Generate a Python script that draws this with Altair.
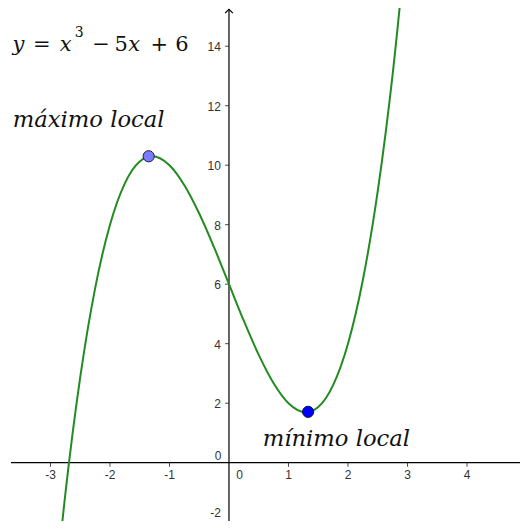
import altair as alt
import pandas as pd

# ---- data ----
curve_x = [-3.0, -2.75, -2.5, -2.25, -2.0, -1.75, -1.5, -1.291, -1.0, -0.75, -0.5, -0.25,
           0.0, 0.25, 0.5, 0.75, 1.0, 1.291, 1.5, 1.75, 2.0, 2.25, 2.5, 2.75, 3.0]
curve_y = [-6.0, -1.047, 2.875, 5.859, 8.0, 9.391, 10.125, 10.303, 10.0, 9.328, 8.375, 7.234,
           6.0, 4.766, 3.625, 2.672, 2.0, 1.697, 1.875, 2.609, 4.0, 6.141, 9.125, 13.047, 18.0]

x_ticks = [-3, -2, -1, 1, 2, 3, 4]
y_ticks = [-2, 2, 4, 6, 8, 10, 12, 14]

max_x, max_y = [-1.35], [10.3]
min_x, min_y = [1.33], [1.71]

label_max = "máximo local"
label_min = "mínimo local"

eq_text = ["y", "=", "x", "3", "−", "5", "x", "+", "6"]
eq_italic = [True, False, True, False, False, False, True, False, False]

# ---- view ----
X_MIN, X_MAX = -3.714, 4.891
Y_MIN, Y_MAX = -1.960, 15.284
AX_LEFT, AX_TOP = -3.664, 15.24

xs = alt.Scale(domain=[X_MIN, X_MAX], nice=False, zero=False)
ys = alt.Scale(domain=[Y_MIN, Y_MAX], nice=False, zero=False)


def ex(f="x"):
    return alt.X(f, type="quantitative", scale=xs, axis=None)


def ey(f="y"):
    return alt.Y(f, type="quantitative", scale=ys, axis=None)


AXIS_COLOR = "#000000"
LABEL_COLOR = "#333333"
SANS = "Liberation Sans"
SERIF = "DejaVu Serif"

# axes lines
xaxis = alt.Chart(pd.DataFrame({"x": [AX_LEFT], "x2": [X_MAX + 1], "y": [0]})).mark_rule(
    color=AXIS_COLOR, strokeWidth=1.2, clip=True
).encode(x=ex(), x2="x2", y=ey())

yaxis = alt.Chart(pd.DataFrame({"x": [0], "y": [Y_MIN - 1], "y2": [AX_TOP]})).mark_rule(
    color=AXIS_COLOR, strokeWidth=1.2, clip=True
).encode(x=ex(), y=ey(), y2="y2")

arrow = alt.Chart(pd.DataFrame({"x": [0], "y": [AX_TOP]})).mark_point(
    shape="M-1,1L0,0L1,1", filled=False, size=60, strokeWidth=1.2, color=AXIS_COLOR, opacity=1
).encode(x=ex(), y=ey())

# ticks
xt_df = pd.DataFrame({"x": x_ticks, "y": [0] * len(x_ticks), "t": [str(v) for v in x_ticks]})
yt_df = pd.DataFrame({"y": y_ticks, "x": [0] * len(y_ticks), "t": [str(v) for v in y_ticks]})
yt_in = yt_df[yt_df["y"] >= Y_MIN]
yt_out = yt_df[yt_df["y"] < Y_MIN]

xtick_marks = alt.Chart(xt_df).mark_tick(
    orient="vertical", size=4, thickness=1, color=AXIS_COLOR, yOffset=2
).encode(x=ex(), y=ey())
ytick_marks = alt.Chart(yt_df).mark_tick(
    orient="horizontal", size=4, thickness=1, color=AXIS_COLOR, xOffset=-2, clip=True
).encode(x=ex(), y=ey())

xlabels = alt.Chart(xt_df).mark_text(
    align="center", baseline="middle", dy=12.5, fontSize=12, font=SANS, color=LABEL_COLOR
).encode(x=ex(), y=ey(), text="t:N")
ylabels = alt.Chart(yt_in).mark_text(
    align="right", baseline="middle", dx=-8, dy=1, fontSize=12, font=SANS, color=LABEL_COLOR
).encode(x=ex(), y=ey(), text="t:N")
# the lowest label sits on the bottom edge: keep it just inside the view
ylabels_edge = alt.Chart(yt_out).mark_text(
    align="right", baseline="bottom", dx=-8, fontSize=12, font=SANS, color=LABEL_COLOR
).encode(x=ex(), y=alt.value(512), text="t:N")

zero_df = pd.DataFrame({"x": [0], "y": [0], "t": ["0"]})
zero_x = alt.Chart(zero_df).mark_text(
    align="center", baseline="middle", dx=10.5, dy=12.5, fontSize=12, font=SANS, color=LABEL_COLOR
).encode(x=ex(), y=ey(), text="t:N")
zero_y = alt.Chart(zero_df).mark_text(
    align="center", baseline="middle", dx=-11, dy=-7, fontSize=12, font=SANS, color=LABEL_COLOR
).encode(x=ex(), y=ey(), text="t:N")

# curve
curve = alt.Chart(pd.DataFrame({"x": curve_x, "y": curve_y})).mark_line(
    color="#228B22", strokeWidth=2, interpolate="monotone", clip=True
).encode(x=ex(), y=ey(), order="x:Q")

pmax = alt.Chart(pd.DataFrame({"x": max_x, "y": max_y})).mark_point(
    shape="circle", filled=True, size=125, fill="#7B7BFF", stroke="#1a1a40", strokeWidth=1, opacity=1
).encode(x=ex(), y=ey())
pmin = alt.Chart(pd.DataFrame({"x": min_x, "y": min_y})).mark_point(
    shape="circle", filled=True, size=125, fill="#0000FF", stroke="#10103a", strokeWidth=1, opacity=1
).encode(x=ex(), y=ey())

# annotations (anchored in data units)
ann_max = alt.Chart(pd.DataFrame({"x": [-3.635], "y": [11.284], "t": [label_max]})).mark_text(
    align="left", baseline="alphabetic", font=SERIF, fontStyle="italic", fontSize=22.7, color="#111111"
).encode(x=ex(), y=ey(), text="t:N")
ann_min = alt.Chart(pd.DataFrame({"x": [0.566], "y": [0.561], "t": [label_min]})).mark_text(
    align="left", baseline="alphabetic", font=SERIF, fontStyle="italic", fontSize=22.7, color="#111111"
).encode(x=ex(), y=ey(), text="t:N")

eq_x = [-3.539, -3.148, -2.743, -2.518, -2.151, -1.812, -1.593, -1.173, -0.790]
eq_y = [13.839, 13.839, 13.839, 14.298, 13.839, 13.839, 13.839, 13.839, 13.839]
eq_size = [21, 21, 21, 14, 21, 21, 21, 21, 21]
eq_df = pd.DataFrame({"t": eq_text, "it": eq_italic, "x": eq_x, "y": eq_y, "s": eq_size})

eq_it = alt.Chart(eq_df[eq_df["it"]]).mark_text(
    align="center", baseline="alphabetic", font=SERIF, fontStyle="italic", color="#111111"
).encode(x=ex(), y=ey(), text="t:N", size=alt.Size("s:Q", scale=None))
eq_up = alt.Chart(eq_df[~eq_df["it"]]).mark_text(
    align="center", baseline="alphabetic", font=SERIF, color="#111111"
).encode(x=ex(), y=ey(), text="t:N", size=alt.Size("s:Q", scale=None))

chart = alt.layer(
    xaxis, yaxis, arrow, xtick_marks, ytick_marks, xlabels, ylabels, ylabels_edge, zero_x, zero_y,
    curve, pmax, pmin, ann_max, ann_min, eq_it, eq_up
).properties(
    width=512, height=513, padding=0, autosize=alt.AutoSizeParams(type="none"), background="white"
).configure_view(stroke=None)

chart.save("out.html", embed_options={"renderer": "svg", "actions": False})
